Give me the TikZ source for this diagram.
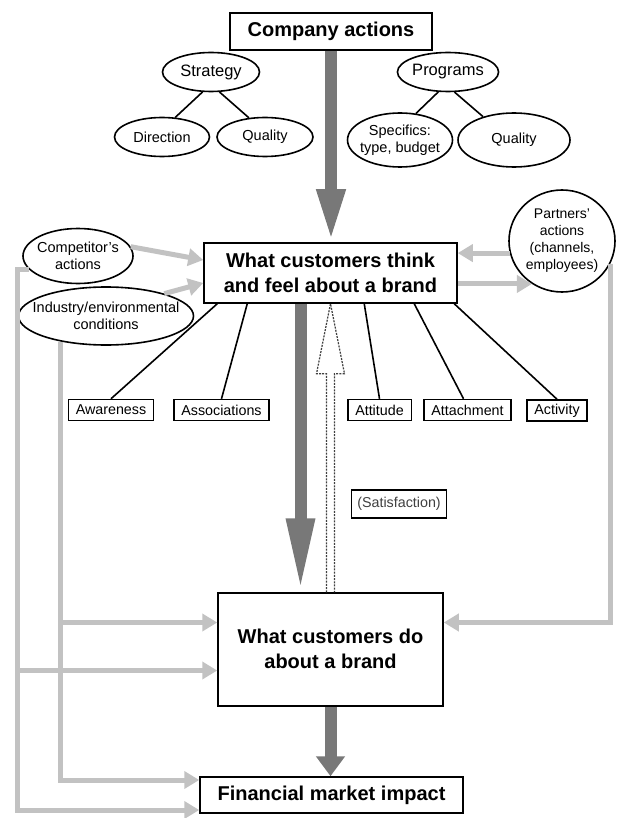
\documentclass[tikz,border=0pt]{standalone}
\usepackage{fontspec}
\setmainfont{Liberation Sans}
\usetikzlibrary{arrows.meta,calc,shapes.geometric}

\definecolor{darkarrow}{gray}{0.47}
\definecolor{lightarrow}{gray}{0.76}

\begin{document}
\begin{tikzpicture}[x=1pt,y=-1pt,
    bigbox/.style={draw, line width=1.5pt, fill=white, align=center, inner sep=0pt,
        font=\fontsize{20}{25}\selectfont\bfseries},
    oval/.style={draw, ellipse, line width=1.6pt, inner sep=0pt, align=center,
        font=\fontsize{14.5}{17}\selectfont},
    smallbox/.style={draw, line width=1.5pt, inner xsep=7.5pt, inner ysep=0pt,
        minimum height=21pt, font=\fontsize{14.3}{16}\selectfont},
    bigarrow/.style 2 args={darkarrow, line width=12pt, -{Triangle[length=#1,width=#2]}},
    sidearrow/.style={lightarrow, line width=5pt, -{Triangle[length=15pt,width=17pt]}},
    link/.style={line width=1.6pt}]

    \useasboundingbox (0,0) rectangle (617,818);

    % Company actions and its two trees
    \node[bigbox, minimum width=202pt, minimum height=37pt] (company) at (331,31.5) {Company actions};
    \node[oval, minimum width=97pt, minimum height=39pt, font=\fontsize{16.5}{19}\selectfont] (strat) at (211,72) {Strategy};
    \node[oval, minimum width=95pt, minimum height=39pt] (direct) at (162,137) {Direction};
    \node[oval, minimum width=96pt, minimum height=39pt] (qualA) at (265,137) {Quality};
    \node[oval, minimum width=96pt, minimum height=39pt, font=\fontsize{16.5}{19}\selectfont] (prog) at (448,72) {Programs};
    \node[oval, minimum width=105pt, minimum height=54pt, inner xsep=-4pt] (spec) at (400,140) {Specifics:\\type, budget};
    \node[oval, minimum width=112pt, minimum height=54pt] (qualB) at (514,140) {Quality};
    \draw[link] (strat.247) -- (direct.56);
    \draw[link] (strat.293) -- (qualA.130);
    \draw[link] (prog.244) -- (spec.59);
    \draw[link] (prog.288) -- (qualB.143);

    % the three main boxes
    \node[bigbox, minimum width=253pt, minimum height=60pt] (think) at (330.5,273) {What customers think\\and feel about a brand};
    \node[bigbox, minimum width=225pt, minimum height=113pt] (do) at (330.5,649.5) {\mbox{}\\[-12pt]What customers do\\about a brand};
    \node[bigbox, minimum width=263pt, minimum height=36pt] (fin) at (331.5,795) {Financial market impact};

    % outside influences
    \node[oval, minimum width=110pt, minimum height=55pt, inner xsep=-3pt] (comp) at (78,256) {Competitor's\\actions};
    \node[oval, minimum width=175pt, minimum height=58pt, inner xsep=-14pt] (ind) at (106,316) {Industry/environmental\\conditions};
    \node[oval, minimum width=106pt, minimum height=102pt, inner sep=-3pt, font=\fontsize{14}{17}\selectfont] (partners) at (562,241) {Partners'\\actions\\(channels,\\employees)};

    % the five dimensions
    \node[smallbox] (aware) at (111,410) {Awareness};
    \node[smallbox] (assoc) at (221.5,410) {Associations};
    \node[smallbox] (attit) at (379.5,410) {Attitude};
    \node[smallbox] (attach) at (467.5,410) {Attachment};
    \node[smallbox] (activ) at (557,410.5) {Activity};
    \draw[link] ($(think.south west)+(14,0)$) -- (aware.north);
    \draw[link] ($(think.south west)+(44,0)$) -- (assoc.north);
    \draw[link] ($(think.south west)+(161,0)$) -- (attit.north);
    \draw[link] ($(think.south west)+(211,0)$) -- ($(attach.north)+(-4,0)$);
    \draw[link] ($(think.south west)+(251,0)$) -- (activ.north);

    \node[smallbox, minimum height=28pt, inner xsep=6pt, text=black!75, fill=white] (satis) at (399,504) {(Satisfaction)};

    % main flow
    \draw[bigarrow={53pt}{26pt}] (company.south) -- (company.south |- think.north);
    \draw[bigarrow={74pt}{26pt}] ($(think.south)+(-30,0)$) -- ($(do.north)+(-30,0)$);
    \draw[bigarrow={20pt}{28pt}] (do.south) -- (do.south |- fin.north);

    % satisfaction feedback (hollow dashed arrow)
    \coordinate (sb) at (do.north);
    \coordinate (st) at (think.south);
    \draw[black!75, line width=1.2pt, dash pattern=on 2pt off 1.2pt]
        ($(sb)+(-4,0)$) -- ($(st)+(-4,70)$) -- ($(st)+(-14,70)$) -- (st)
        -- ($(st)+(14,70)$) -- ($(st)+(4,70)$) -- ($(sb)+(4,0)$);

    % side arrows round the think box
    \draw[sidearrow] (comp.10) -- ($(think.west)+(0,-13)$);
    \draw[sidearrow] (ind.21) -- ($(think.west)+(0,10)$);
    \draw[sidearrow] (partners.193) -- (think.east |- partners.193);
    \draw[sidearrow] (think.east |- partners.235) -- (partners.235);

    % rails down the sides
    \coordinate (railA) at (17,0);
    \coordinate (railB) at (60,0);
    \coordinate (doA) at ($(do.west)+(0,-27)$);
    \coordinate (doB) at ($(do.west)+(0,21)$);
    \coordinate (doC) at ($(do.east)+(0,-27)$);
    \coordinate (finA) at ($(fin.west)+(0,-15)$);
    \coordinate (finB) at ($(fin.west)+(0,15)$);
    \draw[sidearrow] (comp.195) -| (railA |- finB) -- (finB);
    \draw[sidearrow] (railA |- doB) -- (doB);
    \draw[sidearrow] ($(railB |- ind.south)+(0,-4)$) -- (railB |- finA) -- (finA);
    \draw[sidearrow] (railB |- doA) -- (doA);
    \draw[sidearrow] (partners.335) -- (partners.335 |- doC) -- (doC);

\end{tikzpicture}
\end{document}
